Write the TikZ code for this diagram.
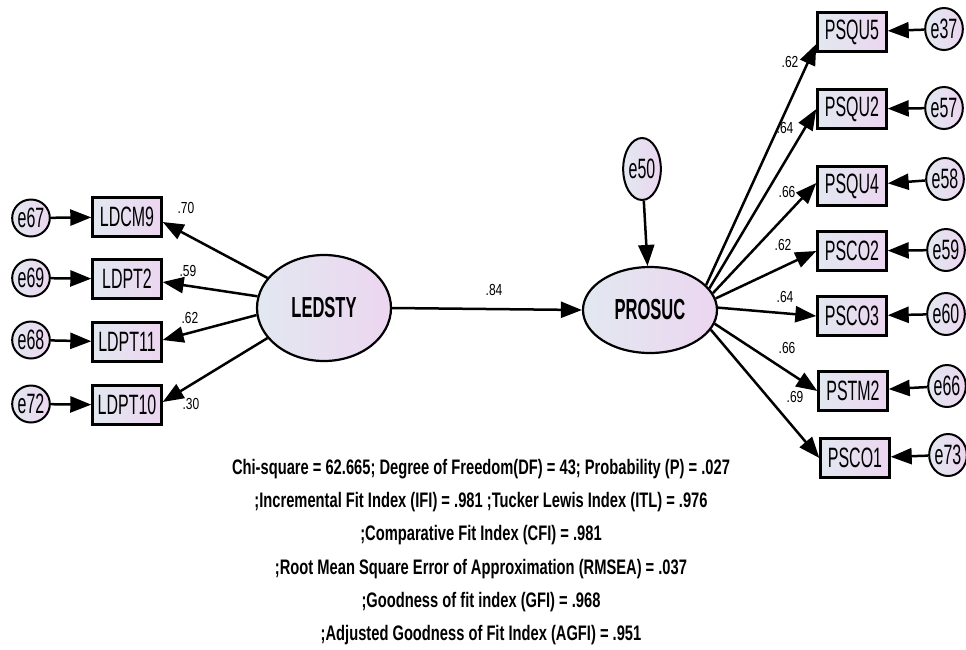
\documentclass[tikz,border=0pt]{standalone}
\usepackage{fontspec}
\setmainfont{Liberation Sans}
\newfontfamily\nodefnt{Liberation Sans}[FakeStretch=0.57]
\newfontfamily\coeffnt{Liberation Sans}[FakeStretch=0.75]
\newfontfamily\fitfnt{Liberation Sans}[FakeStretch=0.70]
\usetikzlibrary{arrows.meta,shapes.geometric}
\definecolor{fillL}{RGB}{226,232,240}
\definecolor{fillR}{RGB}{236,214,240}
\tikzset{
  obs/.style={draw=black, line width=2.4pt, left color=fillL, right color=fillR,
    minimum width=69pt, minimum height=39pt, inner sep=0pt, font=\nodefnt\fontsize{28}{28}\selectfont},
  err/.style={ellipse, draw=black, line width=2pt, left color=fillL, right color=fillR,
    minimum width=33pt, minimum height=37pt, inner sep=0pt, font=\nodefnt\fontsize{28}{28}\selectfont},
  errR/.style={err, minimum width=31pt, minimum height=42pt},
  lat/.style={ellipse, draw=black, line width=2.2pt, left color=fillL, right color=fillR,
    inner sep=0pt, font=\nodefnt\bfseries\fontsize{29}{29}\selectfont},
  coef/.style={inner sep=0pt, font=\coeffnt\fontsize{16}{16}\selectfont},
  arr/.style={line width=2.5pt, -{Triangle[length=21pt,width=16pt]}}
}
\begin{document}
\begin{tikzpicture}[x=1pt,y=-1pt]
\useasboundingbox (0,0) rectangle (966,649);
% latent variables
\node[lat, minimum width=134pt, minimum height=106pt] (LEDSTY) at (324,308) {LEDSTY};
\node[lat, minimum width=134pt, minimum height=86pt] (PROSUC) at (650,310) {PROSUC};
\node[err, minimum width=35pt, minimum height=62pt] (e50) at (642,169) {e50};
% left indicators
\node[obs] (LDCM9) at (127,217) {LDCM9};
\node[obs] (LDPT2) at (127,279) {LDPT2};
\node[obs] (LDPT11) at (127,342) {LDPT11};
\node[obs] (LDPT10) at (127,405) {LDPT10};
\node[err] (e67) at (31,218) {e67};
\node[err] (e69) at (31,278) {e69};
\node[err] (e68) at (31,340) {e68};
\node[err] (e72) at (31,404) {e72};
% right indicators
\node[obs] (PSQU5) at (852,32) {PSQU5};
\node[obs] (PSQU2) at (852,109) {PSQU2};
\node[obs] (PSQU4) at (852,186) {PSQU4};
\node[obs] (PSCO2) at (852,251) {PSCO2};
\node[obs] (PSCO3) at (852,316) {PSCO3};
\node[obs] (PSTM2) at (853,391) {PSTM2};
\node[obs] (PSCO1) at (855,458) {PSCO1};
\node[errR] (e37) at (944,29) {e37};
\node[errR] (e57) at (944,108) {e57};
\node[errR] (e58) at (945,179) {e58};
\node[errR] (e59) at (946,250) {e59};
\node[errR] (e60) at (946,314) {e60};
\node[errR] (e66) at (947,386) {e66};
\node[errR] (e73) at (948,455) {e73};
% error arrows
\foreach \e/\b in {e67/LDCM9,e69/LDPT2,e68/LDPT11,e72/LDPT10,e37/PSQU5,e57/PSQU2,e58/PSQU4,e59/PSCO2,e60/PSCO3,e66/PSTM2,e73/PSCO1}
  \draw[arr] (\e) -- (\b);
\draw[arr] (e50) -- (PROSUC);
% structural path
\draw[arr] (LEDSTY.east) -- (PROSUC.west);
% loadings left
\draw[arr] (LEDSTY.152) -- ([yshift=-5pt]LDCM9.east);
\draw[arr] (LEDSTY.170) -- ([yshift=-3pt]LDPT2.east);
\draw[arr] (LEDSTY.186) -- ([yshift=2pt]LDPT11.east);
\draw[arr] (LEDSTY.208) -- ([yshift=3pt]LDPT10.east);
% loadings right
\draw[arr] (PROSUC.24) -- ([yshift=-12pt]PSQU5.west);
\draw[arr] (PROSUC.20) -- (PSQU2.west);
\draw[arr] (PROSUC.15) -- ([yshift=3pt]PSQU4.west);
\draw[arr] (PROSUC.10) -- (PSCO2.west);
\draw[arr] (PROSUC.2) -- (PSCO3.west);
\draw[arr] (PROSUC.-12) -- (PSTM2.west);
\draw[arr] (PROSUC.-18) -- (PSCO1.west);
% coefficients
\node[coef] (c1) at (186,208) {.70};
\node[coef] (c2) at (188,271) {.59};
\node[coef] (c3) at (190,318) {.62};
\node[coef] (c4) at (191,404) {.30};
\node[coef] (c5) at (494,290) {.84};
\node[coef] (c6) at (790,62) {.62};
\node[coef] (c7) at (785,128) {.64};
\node[coef] (c8) at (787,192) {.66};
\node[coef] (c9) at (783,245) {.62};
\node[coef] (c10) at (785,297) {.64};
\node[coef] (c11) at (787,348) {.66};
\node[coef] (c12) at (795,397) {.69};
% fit indices
\node[align=center, inner sep=0pt, font=\fitfnt\bfseries\fontsize{21}{33.2}\selectfont] (fit) at (481,552)
 {Chi-square = 62.665; Degree of Freedom(DF) = 43; Probability (P) = .027\\
 ;Incremental Fit Index (IFI) = .981 ;Tucker Lewis Index (ITL) = .976\\
 ;Comparative Fit Index (CFI) = .981\\
 ;Root Mean Square Error of Approximation (RMSEA) = .037\\
 ;Goodness of fit index (GFI) = .968\\
 ;Adjusted Goodness of Fit Index (AGFI) = .951};
\end{tikzpicture}
\end{document}
